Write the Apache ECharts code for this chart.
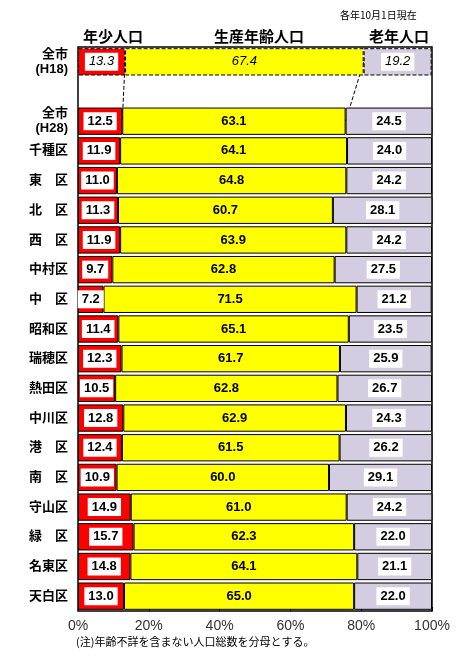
<!DOCTYPE html><html><head><meta charset="utf-8"><script src="https://cdn.jsdelivr.net/npm/echarts@6/dist/echarts.min.js"></script>
<style>html,body{margin:0;background:#fff}#c{width:461px;height:667px}</style></head><body><div id="c"></div><script>
const categories=['全市\n(H18)','','全市\n(H28)','千種区','東　区','北　区','西　区','中村区','中　区','昭和区','瑞穂区','熱田区','中川区','港　区','南　区','守山区','緑　区','名東区','天白区'];
const young=[13.3,null,12.5,11.9,11.0,11.3,11.9,9.7,7.2,11.4,12.3,10.5,12.8,12.4,10.9,14.9,15.7,14.8,13.0];
const working=[67.4,null,63.1,64.1,64.8,60.7,63.9,62.8,71.5,65.1,61.7,62.8,62.9,61.5,60.0,61.0,62.3,64.1,65.0];
const old=[19.2,null,24.5,24.0,24.2,28.1,24.2,27.5,21.2,23.5,25.9,26.7,24.3,26.2,29.1,24.2,22.0,21.1,22.0];
const xTicks=['0%','20%','40%','60%','80%','100%'];
const F='Arial, "Liberation Sans", "Noto Sans CJK JP", sans-serif';
function mk(arr,color,box){
  return arr.map((v,i)=>{
    if(v==null) return {value:null};
    const h18=i===0;
    const lab={fontStyle:h18?'italic':'normal',fontWeight:h18?'normal':'bold'};
    if(box && !(i===8&&box==='y')){lab.backgroundColor='#fff';}
    return {value:v,itemStyle:{borderType:h18?'dashed':'solid'},label:lab};
  });
}
const lblBase={show:true,position:'inside',color:'#000',fontSize:13,fontFamily:F,padding:[3,4,2,4],formatter:p=>p.value.toFixed(1)};
const c=echarts.init(document.getElementById('c'));
c.setOption({
  animation:false,
  grid:{left:78,right:29,top:47,bottom:56,show:true,borderColor:'#000',borderWidth:1.5,backgroundColor:'#fff'},
  xAxis:{type:'value',min:0,max:100,interval:20,splitLine:{show:false},axisLine:{show:false},
    axisTick:{show:true,inside:true,length:4,lineStyle:{color:'#000'}},
    axisLabel:{formatter:v=>xTicks[v/20],color:'#333',fontSize:14,fontFamily:F,margin:8}},
  yAxis:{type:'category',data:categories,inverse:true,axisLine:{show:false},axisTick:{show:false},
    axisLabel:{color:'#000',fontWeight:'bold',fontSize:13,fontFamily:F,lineHeight:15,margin:10}},
  graphic:[
    {type:'text',left:83,top:29,style:{text:'年少人口',font:'bold 15px "Noto Sans CJK JP"',fill:'#000'}},
    {type:'text',left:214,top:29,style:{text:'生産年齢人口',font:'bold 15px "Noto Sans CJK JP"',fill:'#000'}},
    {type:'text',left:369,top:29,style:{text:'老年人口',font:'bold 15px "Noto Sans CJK JP"',fill:'#000'}},
    {type:'text',left:340,top:10,style:{text:'各年10月1日現在',font:'10px "Noto Sans CJK JP"',fill:'#000'}},
    {type:'text',left:76,top:636,style:{text:'(注)年齢不詳を含まない人口総数を分母とする。',font:'11px "Noto Sans CJK JP"',fill:'#000'}}
  ],
  series:[
    {type:'line',z:1,symbol:'none',silent:true,lineStyle:{type:'dashed',color:'#000',width:1},data:[[13.3,categories[0]],[12.5,categories[2]]]},
    {type:'line',z:1,symbol:'none',silent:true,lineStyle:{type:'dashed',color:'#000',width:1},data:[[80.7,categories[0]],[75.6,categories[2]]]},
    {type:'bar',stack:'a',z:3,barCategoryGap:'8%',itemStyle:{color:'#ff0000',borderColor:'#000',borderWidth:1},label:lblBase,data:mk(young,'#f00',true)},
    {type:'bar',stack:'a',z:3,itemStyle:{color:'#ffff00',borderColor:'#000',borderWidth:1},label:lblBase,data:mk(working,'#ff0',false)},
    {type:'bar',stack:'a',z:3,itemStyle:{color:'#d4cce0',borderColor:'#000',borderWidth:1},label:lblBase,data:mk(old,'#ccc',true)}
  ]
});
</script></body></html>
